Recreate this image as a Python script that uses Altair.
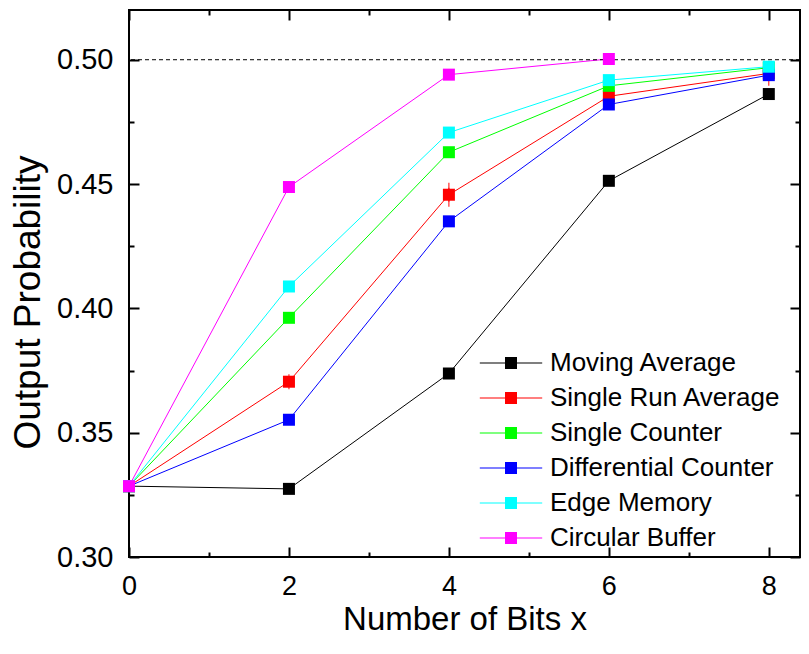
import altair as alt
import pandas as pd

# ---------------- data ----------------
x_bits = [0, 2, 4, 6, 8]
series_names = ["Moving Average", "Single Run Average", "Single Counter",
                "Differential Counter", "Edge Memory", "Circular Buffer"]
series_colors = ["#000000", "#FF0000", "#00FF00", "#0000FF", "#00FFFF", "#FF00FF"]
moving_average = [0.3285, 0.3274, 0.3738, 0.4513, 0.4862]
single_run_average = [0.3285, 0.3705, 0.4457, 0.4853, 0.4945]
single_counter = [0.3285, 0.3962, 0.4628, 0.4895, 0.4968]
differential_counter = [0.3285, 0.3552, 0.4350, 0.4820, 0.4938]
edge_memory = [0.3285, 0.4088, 0.4707, 0.4918, 0.4972]
circular_buffer = [0.3285, 0.4488, 0.4940, 0.5003]
single_run_err = [0.0, 0.001, 0.0028, 0.002, 0.003]
reference_level = [0.5]
x_major = [0, 2, 4, 6, 8]
x_minor = [1, 3, 5, 7]
y_major = [0.30, 0.35, 0.40, 0.45, 0.50]
y_minor = [0.325, 0.375, 0.425, 0.475]

all_series = [moving_average, single_run_average, single_counter,
              differential_counter, edge_memory, circular_buffer]
rows = []
for name, col, vals in zip(series_names, series_colors, all_series):
    for xv, yv in zip(x_bits, vals):
        rows.append({"series": name, "line_color": col, "x": xv, "y": yv})
df = pd.DataFrame(rows)

err_rows = []
for xv, yv, e in zip(x_bits, single_run_average, single_run_err):
    if e > 0:
        err_rows.append({"x": xv, "lo": yv - e, "hi": yv + e})
df_err = pd.DataFrame(err_rows)
df_cap = pd.concat([df_err.assign(y=df_err["lo"]), df_err.assign(y=df_err["hi"])])

df_ref = pd.DataFrame({"y": reference_level})

# ---------------- layout ----------------
W, H = 671, 547
FONT = "Liberation Sans"
xs = alt.Scale(domain=[0, 8.39], nice=False)
ys = alt.Scale(domain=[0.30, 0.52], nice=False, zero=False)


def tick_axis(orient, values, size, offset):
    return alt.Axis(orient=orient, values=values, labels=False, domain=False,
                    grid=False, ticks=True, tickSize=size, tickWidth=2,
                    tickColor="black", offset=offset, title="")


main_x_axis = alt.Axis(values=x_major, format="d", labelFontSize=27, labelFont=FONT,
                       labelColor="black", ticks=False, tickSize=0, domain=False,
                       grid=False, labelPadding=16, labelFlush=False,
                       title="Number of Bits x",
                       titleFontSize=33, titleFont=FONT, titleFontWeight="normal",
                       titleColor="black", titleY=72, titleBaseline="alphabetic")
main_y_axis = alt.Axis(values=y_major, format=".2f", labelFontSize=29, labelFont=FONT,
                       labelColor="black", ticks=False, tickSize=0, domain=False,
                       grid=False, labelPadding=16, labelFlush=False,
                       title="Output Probability",
                       titleFontSize=37, titleFont=FONT, titleFontWeight="normal",
                       titleColor="black", titleX=-90, titleY=292,
                       titleBaseline="alphabetic")

color_scale = alt.Scale(domain=series_names, range=series_colors)

lines = alt.Chart(df).mark_line(strokeWidth=1).encode(
    x=alt.X("x:Q", scale=xs, axis=main_x_axis),
    y=alt.Y("y:Q", scale=ys, axis=main_y_axis),
    stroke=alt.Stroke("line_color:N", scale=None),
    detail="series:N",
)

ref_rule = alt.Chart(df_ref).mark_rule(color="black", strokeWidth=1, strokeDash=[4, 3]).encode(
    y=alt.Y("y:Q", scale=ys, axis=None),
)

err_rule = alt.Chart(df_err).mark_rule(color="#FF0000", strokeWidth=1).encode(
    x=alt.X("x:Q", scale=xs, axis=None),
    y=alt.Y("lo:Q", scale=ys, axis=None),
    y2="hi:Q",
)
err_cap = alt.Chart(df_cap).mark_tick(color="#FF0000", thickness=1, size=10, opacity=1).encode(
    x=alt.X("x:Q", scale=xs, axis=None),
    y=alt.Y("y:Q", scale=ys, axis=None),
)

legend_symbol = "M-5.2,-0.09H-1V0.09H-5.2Z M-1,-1H1V1H-1Z M1,-0.09H5.2V0.09H1Z"

points = alt.Chart(df).mark_point(shape="square", filled=True, size=144, opacity=1,
                                  strokeWidth=0).encode(
    x=alt.X("x:Q", scale=xs, axis=None),
    y=alt.Y("y:Q", scale=ys, axis=None),
    fill=alt.Fill("series:N", scale=color_scale,
                  legend=alt.Legend(orient="none", legendX=369, legendY=340,
                                    title=None, symbolType=legend_symbol,
                                    symbolSize=144, symbolStrokeWidth=0,
                                    symbolOpacity=1,
                                    labelOffset=26, labelFontSize=26,
                                    labelFont=FONT, labelColor="black",
                                    labelLimit=400, rowPadding=9.0, padding=0)),
)

base_inv = alt.Chart(df).mark_point(opacity=0, size=1)


def tick_layer(xorient, xvals, xsize, yorient, yvals, ysize):
    return base_inv.encode(
        x=alt.X("x:Q", scale=xs, axis=tick_axis(xorient, xvals, xsize, -H)),
        y=alt.Y("y:Q", scale=ys, axis=tick_axis(yorient, yvals, ysize, -W)),
    )


t1 = tick_layer("bottom", x_major, 10, "left", y_major, 10)   # top & right major
t2 = tick_layer("bottom", x_minor, 5, "left", y_minor, 5)     # top & right minor
t3 = tick_layer("top", x_major, 10, "right", y_major, 10)     # bottom & left major
t4 = tick_layer("top", x_minor, 5, "right", y_minor, 5)       # bottom & left minor

chart = alt.layer(lines, ref_rule, err_rule, err_cap, points, t1, t2, t3, t4).resolve_axis(
    x="independent", y="independent"
).properties(
    width=W, height=H,
    autosize=alt.AutoSizeParams(type="none"),
    padding={"left": 121, "top": 2, "right": 1, "bottom": 80},
    background="white",
).configure_view(stroke="black", strokeWidth=2)

chart.save("out.html", embed_options={"renderer": "svg", "actions": False})
